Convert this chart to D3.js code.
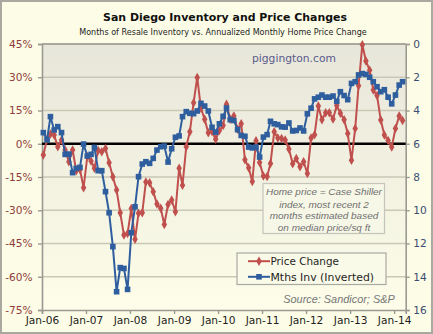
<!DOCTYPE html>
<html><head><meta charset="utf-8">
<script src="https://cdn.jsdelivr.net/npm/d3@7"></script>
<style>body{margin:0;background:#fff}svg{display:block}</style>
</head><body>
<svg id="c" width="433" height="334"></svg>
<script>
const tickLabels = ["Jan-06","Jan-07","Jan-08","Jan-09","Jan-10","Jan-11","Jan-12","Jan-13","Jan-14"];
const leftTicks = [45,30,15,0,-15,-30,-45,-60,-75];
const rightTicks = [0,2,4,6,8,10,12,14,16];
const priceChange = [
 -5.1, 2.0, 4.4, 3.9, -1.3, 1.7, -2.8, -8.1, -2.8, -12.2, -11.6, -19.8,
 -5.8, -7.8, -11.0, -3.0, -3.6, -2.1, -8.6, -14.9, -20.9, -31.1, -41.2, -40.5,
 -29.2, -43.1, -31.4, -31.1, -17.2, -17.6, -21.6, -27.2, -29.1, -36.4, -27.4, -25.4,
 -30.7, -11.1, -18.7, -1.3, 5.4, 18.5, 29.9, 16.0, 11.0, 5.0, 5.5, 2.0,
 6.0, 8.2, 17.8, 11.0, 12.5, 6.5, 9.0, -7.2, -10.8, -17.0, 1.3, -8.5,
 -14.6, -14.8, -8.9, 5.4, 2.6, 2.4, 1.7, -2.4, -9.0, -6.6, -10.4, -8.1,
 -13.4, 2.6, 4.1, 17.0, 10.8, 14.0, 14.0, 11.2, 17.2, 13.8, 10.8, 4.6,
 -7.4, 6.9, 26.2, 44.7, 37.3, 33.2, 24.2, 21.8, 10.7, 3.9, 1.5, -1.5,
 6.9, 12.5, 10.5
];
const inventory = [
 5.33, 5.77, 4.37, 5.17, 4.97, 5.33, 6.64, 6.62, 7.74, 7.48, 7.42, 6.02,
 6.74, 6.64, 6.22, 7.62, 7.62, 8.88, 10.15, 12.19, 14.9, 13.45, 13.5, 14.76,
 11.35, 9.79, 7.98, 7.22, 7.08, 7.18, 6.88, 6.38, 6.18, 6.14, 7.10, 6.30,
 5.61, 5.53, 4.37, 4.07, 4.17, 4.19, 4.03, 3.57, 3.73, 4.03, 5.01, 5.3,
 4.8, 4.35, 3.85, 4.55, 4.6, 5.15, 5.5, 5.55, 6.2, 6.25, 6.2, 6.8,
 5.6, 5.45, 4.65, 4.8, 4.85, 4.98, 5.0, 4.75, 5.23, 5.2, 5.05, 5.23,
 4.2, 3.86, 3.3, 3.2, 3.07, 3.2, 3.2, 3.13, 3.45, 2.87, 3.1, 3.35,
 2.37, 2.27, 1.86, 1.78, 1.83, 2.0, 2.27, 2.57, 2.87, 2.75, 3.2, 3.6,
 3.07, 2.47, 2.27
];
const months = d3.timeMonth.range(new Date(2006,0,1), new Date(2014,3,1)).map(d => new Date(d.getFullYear(), d.getMonth(), 12));
const yearTicks = d3.timeYear.range(new Date(2006,0,1), new Date(2014,0,2));

const svg = d3.select("#c");
const L = 42, R = 405.7, T = 44, B = 310;
const x = d3.scaleTime().domain([new Date(2006,0,1), new Date(2014,3,7)]).range([L, R]);
const yL = d3.scaleLinear().domain([-75, 45]).range([B, T]);
const yR = d3.scaleLinear().domain([0, 16]).range([T, B]);

const RED = "#c0504d", BLUE = "#2f5e9e";
const SQ = 5.6, DIA = 26;

function fit(sel, w) {
  const n = sel.node();
  const len = n.getComputedTextLength();
  const fs = parseFloat(sel.attr("font-size"));
  sel.attr("font-size", (fs * w / len).toFixed(2));
  return sel;
}

const defs = svg.append("defs");
const g1 = defs.append("linearGradient").attr("id","pg").attr("x1",0).attr("y1",0).attr("x2",0).attr("y2",1);
g1.append("stop").attr("offset","0%").attr("stop-color","#e7e6da");
g1.append("stop").attr("offset","100%").attr("stop-color","#fdfde9");

svg.append("rect").attr("x",1).attr("y",1).attr("width",431).attr("height",332)
  .attr("fill","#fdfde7").attr("stroke","#a9a9a2").attr("stroke-width",2);

svg.append("rect").attr("x",L).attr("y",T).attr("width",R-L).attr("height",B-T).attr("fill","url(#pg)");

svg.append("g").selectAll("line").data(leftTicks.filter(d => d !== 0 && d !== -75)).join("line")
  .attr("x1",L).attr("x2",R).attr("y1",d=>yL(d)).attr("y2",d=>yL(d))
  .attr("stroke","#c9c7b6").attr("stroke-width",1.6);

const axL = d3.axisLeft(yL).tickValues(leftTicks).tickSize(4).tickFormat(d => d + "%");
const gL = svg.append("g").attr("transform",`translate(${L},0)`).call(axL);
gL.select(".domain").attr("stroke","#9a9a92").attr("stroke-width",1.6);
gL.selectAll(".tick line").attr("stroke","#9a9a92").attr("stroke-width",1.4);
gL.selectAll(".tick text").attr("fill","#8e3c3a").attr("font-family","DejaVu Sans").attr("font-size",10.6).attr("x",-9.5);

const axR = d3.axisRight(yR).tickValues(rightTicks).tickSize(4);
const gR = svg.append("g").attr("transform",`translate(${R},0)`).call(axR);
gR.select(".domain").attr("stroke","#9a9a92").attr("stroke-width",1.6);
gR.selectAll(".tick line").attr("stroke","#9a9a92").attr("stroke-width",1.4);
gR.selectAll(".tick text").attr("fill","#3b4d72").attr("font-family","DejaVu Sans").attr("font-size",10.6).attr("x",7.5);

const axB = d3.axisBottom(x).tickValues(yearTicks).tickSize(4).tickFormat((d,i) => tickLabels[i]);
const gB = svg.append("g").attr("transform",`translate(0,${B})`).call(axB);
gB.select(".domain").attr("stroke","#9a9a92").attr("stroke-width",1.6);
gB.selectAll(".tick line").attr("stroke","#9a9a92").attr("stroke-width",1.4);
gB.selectAll(".tick text").attr("fill","#1e1e1e").attr("font-family","DejaVu Sans").attr("font-size",10.6).attr("y",6);

svg.append("line").attr("x1",L).attr("x2",R).attr("y1",T).attr("y2",T).attr("stroke","#9a9a92").attr("stroke-width",1.6);

svg.append("line").attr("x1",L).attr("x2",R).attr("y1",yL(0)).attr("y2",yL(0)).attr("stroke","#000").attr("stroke-width",2.4);

fit(svg.append("text").attr("x",252).attr("y",61.5).attr("font-family","DejaVu Sans").attr("font-size",11)
  .attr("fill","#5b5b8c").text("piggington.com"), 84);

svg.append("rect").attr("x",263).attr("y",183.5).attr("width",121.5).attr("height",50)
  .attr("fill","#f7f7e7").attr("stroke","#c4c4bb").attr("stroke-width",1.2);
const noteLines = ["Home price = Case Shiller","index, most recent 2","months estimated based","on median price/sq ft"];
const nt = svg.append("g").attr("font-family","Liberation Sans").attr("font-style","italic").attr("fill","#6f6f6f").attr("text-anchor","middle");
const noteY = [195.3, 207.5, 219.3, 231.2];
let noteFs = 10.5;
nt.selectAll("text").data(noteLines).join("text").attr("x",324).attr("y",(d,i)=>noteY[i]).attr("font-size",noteFs).text(d=>d);
{
  const first = nt.select("text").node();
  const k = 116 / first.getComputedTextLength();
  nt.selectAll("text").attr("font-size", (noteFs*k).toFixed(2));
}

const lineRed = d3.line().x((d,i)=>x(months[i])).y(d=>yL(d));
const lineBlue = d3.line().x((d,i)=>x(months[i])).y(d=>yR(d));

svg.append("path").datum(priceChange).attr("d",lineRed).attr("fill","none").attr("stroke",RED).attr("stroke-width",2).attr("stroke-linejoin","round");
svg.append("g").selectAll("path").data(priceChange).join("path")
  .attr("d", d3.symbol(d3.symbolDiamond, DIA))
  .attr("transform",(d,i)=>`translate(${x(months[i])},${yL(d)})`).attr("fill",RED);

svg.append("path").datum(inventory).attr("d",lineBlue).attr("fill","none").attr("stroke",BLUE).attr("stroke-width",2).attr("stroke-linejoin","round");
svg.append("g").selectAll("rect").data(inventory).join("rect")
  .attr("x",(d,i)=>x(months[i])-SQ/2).attr("y",d=>yR(d)-SQ/2).attr("width",SQ).attr("height",SQ).attr("fill",BLUE);

svg.append("rect").attr("x",237).attr("y",253).attr("width",149).attr("height",31.5)
  .attr("fill","#fafae8").attr("stroke","#a9a9a2").attr("stroke-width",1.2);
const legend = [{name:"Price Change", color:RED, y:261.2, shape:"d"},{name:"Mths Inv (Inverted)", color:BLUE, y:276.8, shape:"s"}];
const lg = svg.append("g");
legend.forEach(e => {
  lg.append("line").attr("x1",248).attr("x2",270).attr("y1",e.y).attr("y2",e.y).attr("stroke",e.color).attr("stroke-width",2);
  if (e.shape === "d") lg.append("path").attr("d", d3.symbol(d3.symbolDiamond, DIA)).attr("transform",`translate(259,${e.y})`).attr("fill",e.color);
  else lg.append("rect").attr("x",259-SQ/2).attr("y",e.y-SQ/2).attr("width",SQ).attr("height",SQ).attr("fill",e.color);
});
fit(lg.append("text").attr("x",270.5).attr("y",265).attr("font-family","DejaVu Sans").attr("font-size",10.3).attr("fill","#1e1e1e").text(legend[0].name), 68.5);
fit(lg.append("text").attr("x",270.5).attr("y",280.6).attr("font-family","DejaVu Sans").attr("font-size",10.3).attr("fill","#1e1e1e").text(legend[1].name), 103.5);

fit(svg.append("text").attr("x",394.7).attr("y",302.8).attr("text-anchor","end").attr("font-family","Liberation Sans")
  .attr("font-style","italic").attr("font-size",11).attr("fill","#777").text("Source: Sandicor; S&P"), 111.5);

fit(svg.append("text").attr("x",225).attr("y",20.5).attr("text-anchor","middle").attr("font-family","DejaVu Sans")
  .attr("font-weight","bold").attr("font-size",11.5).attr("fill","#111").text("San Diego Inventory and Price Changes"), 244);
fit(svg.append("text").attr("x",223).attr("y",35.3).attr("text-anchor","middle").attr("font-family","DejaVu Sans")
  .attr("font-size",8).attr("fill","#222").text("Months of Resale Inventory vs. Annualized Monthly Home Price Change"), 288);
</script>
</body></html>
